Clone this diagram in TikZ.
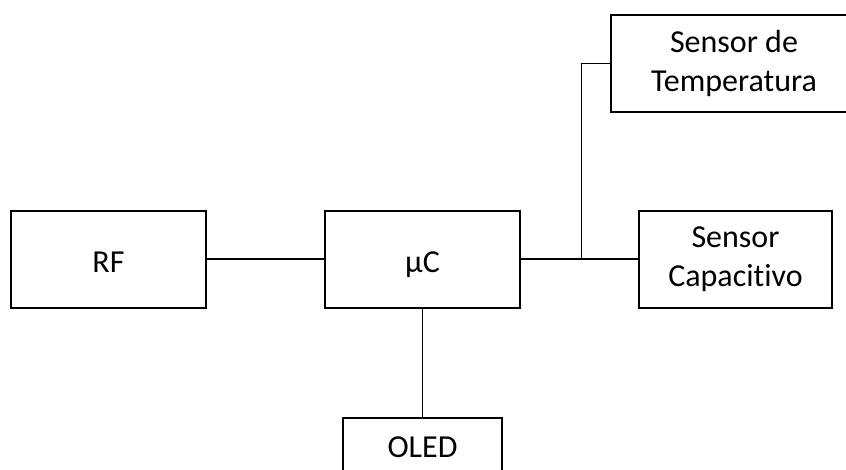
\documentclass[tikz,border=0pt]{standalone}
\usepackage{fontspec}
\setmainfont{Carlito}[Ligatures=NoCommon]
\begin{document}
\begin{tikzpicture}[x=1pt,y=-1pt,
  block/.style={draw, line width=2pt, anchor=north west, inner sep=0pt,
    align=center, minimum height=97pt, font=\fontsize{32}{39}\selectfont},
  oneline/.style={text height=27pt, text depth=0pt},
  bus/.style={line width=2pt},
  wire/.style={line width=0.9pt}]
\useasboundingbox (0,0) rectangle (846,470);

% blocks
\node[block, oneline, minimum width=195pt] (rf) at (10,210)  {RF};
\node[block, oneline, minimum width=195pt] (uc) at (324,210) {µC};
\node[block, minimum width=193pt] (cap)  at (638,210) {Sensor\\Capacitivo};
\node[block, minimum width=246pt] (temp) at (610,14)  {Sensor de\\Temperatura};
\node[block, minimum width=159pt, minimum height=58pt] (oled) at (342,417) {OLED};

% connections
\draw[bus] (rf.east) -- (uc.west);
\draw[bus] (uc.east) -- (cap.west);
\path (uc.east) -- (cap.west) coordinate[pos=0.513] (j);
\draw[wire] (j) |- (temp.west);
\draw[wire] (uc.south) -- (oled.north);
\end{tikzpicture}
\end{document}
